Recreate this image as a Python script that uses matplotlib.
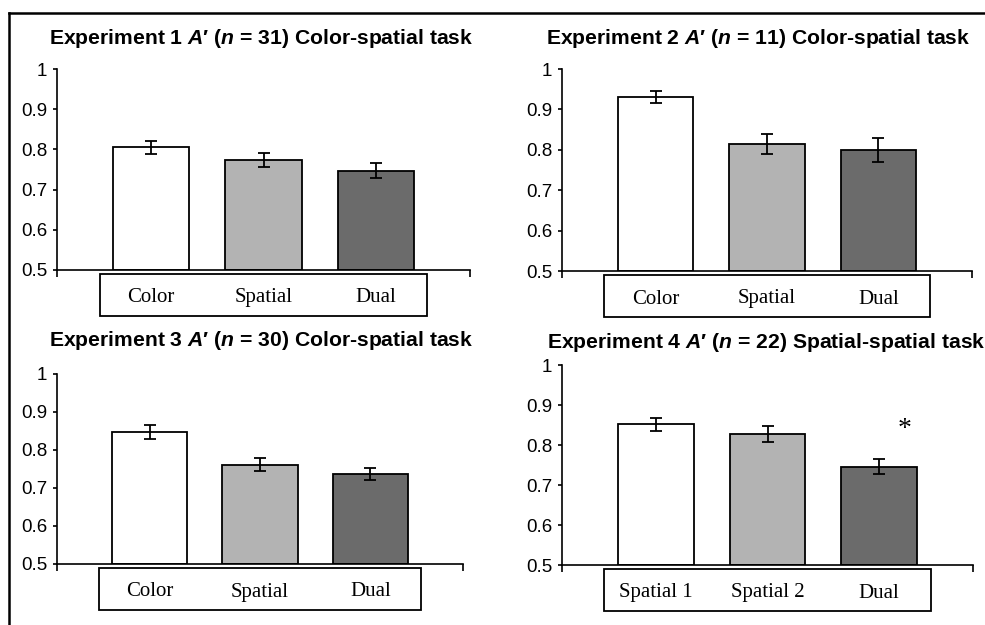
import matplotlib
matplotlib.use("Agg")
import matplotlib.pyplot as plt
from matplotlib.patches import Rectangle
from matplotlib.lines import Line2D
import matplotlib.transforms as mtransforms

plt.rcParams['font.family'] = ['Liberation Sans', 'DejaVu Sans']
plt.rcParams['mathtext.fontset'] = 'custom'
plt.rcParams['mathtext.rm'] = 'Liberation Sans:bold'
plt.rcParams['mathtext.it'] = 'Liberation Sans:italic:bold'
plt.rcParams['mathtext.bf'] = 'Liberation Sans:bold'

# data
titles = ["Experiment 1 $A$\u2032 ($n$ = 31) Color-spatial task",
          "Experiment 2 $A$\u2032 ($n$ = 11) Color-spatial task",
          "Experiment 3 $A$\u2032 ($n$ = 30) Color-spatial task",
          "Experiment 4 $A$\u2032 ($n$ = 22) Spatial-spatial task"]
labels_cs = ["Color", "Spatial", "Dual"]
labels_ss = ["Spatial 1", "Spatial 2", "Dual"]

exp1_means = [0.805, 0.773, 0.747]
exp1_err = [0.016, 0.017, 0.018]
exp2_means = [0.931, 0.814, 0.800]
exp2_err = [0.014, 0.024, 0.029]
exp3_means = [0.848, 0.761, 0.737]
exp3_err = [0.018, 0.017, 0.016]
exp4_means = [0.852, 0.828, 0.746]
exp4_err = [0.016, 0.020, 0.018]

bar_colors = ["white", "#b3b3b3", "#6b6b6b"]
yticks = [0.5, 0.6, 0.7, 0.8, 0.9, 1.0]
ytick_labels = ["0.5", "0.6", "0.7", "0.8", "0.9", "1"]

W, H = 985, 625
fig = plt.figure(figsize=(W / 100, H / 100), dpi=100)

XLIM = (-0.84, 2.84)


def panel(rect, means, errs, labels, title, title_pos, title_ha="center"):
    x0, y0, x1, y1 = rect
    ax = fig.add_axes([x0 / W, 1 - y1 / H, (x1 - x0) / W, (y1 - y0) / H])
    h = y1 - y0
    xs = list(range(len(means)))
    ax.bar(xs, [m - 0.5 for m in means], bottom=0.5, width=0.68,
           color=bar_colors, edgecolor="black", linewidth=1.3, zorder=2)
    ax.errorbar(xs, means, yerr=errs, fmt="none", ecolor="black",
                elinewidth=1.3, capsize=4, capthick=1.3, zorder=3)
    ax.set_xlim(*XLIM)
    ax.set_ylim(0.5, 1.0)
    ax.set_yticks(yticks)
    ax.set_yticklabels(ytick_labels)
    ax.set_xticks([XLIM[0], XLIM[1]])
    ax.set_xticklabels([])
    ax.tick_params(axis="y", direction="out", length=3, width=1.2,
                   labelsize=13.5, pad=4)
    ax.tick_params(axis="x", direction="out", length=5, width=1.2)
    for s in ["top", "right"]:
        ax.spines[s].set_visible(False)
    for s in ["left", "bottom"]:
        ax.spines[s].set_linewidth(1.2)

    # category label box under the axis
    trans = mtransforms.blended_transform_factory(ax.transData, ax.transAxes)
    top = -4.0 / h
    bot = -46.0 / h
    box = Rectangle((-0.46, bot), 2.92, top - bot, transform=trans,
                    facecolor="white", edgecolor="black", linewidth=1.3,
                    clip_on=False)
    ax.add_patch(box)
    for x, lab in zip(xs, labels):
        ax.text(x, -32.5 / h, lab, transform=trans, ha="center",
                va="baseline", fontsize=15, family="Liberation Serif")

    fig.text(title_pos[0] / W, 1 - title_pos[1] / H, title, ha=title_ha,
             va="center", fontsize=15.2, fontweight="bold")
    return ax


panel((57, 69, 470, 270), exp1_means, exp1_err, labels_cs, titles[0], (261, 38))
panel((562, 69, 972, 271), exp2_means, exp2_err, labels_cs, titles[1], (758, 38))
panel((57, 374, 463, 564), exp3_means, exp3_err, labels_cs, titles[2], (261, 340))
ax4 = panel((562, 365, 973, 565), exp4_means, exp4_err, labels_ss, titles[3],
            (547, 342), title_ha="left")
ax4.text(2.23, 0.838, "*", ha="center", va="center", fontsize=20,
         family="Liberation Serif")

# frame lines at top and left
fig.add_artist(Line2D([8.5 / W, 8.5 / W], [1 - 13 / H, 0], color="black", lw=1.8))
fig.add_artist(Line2D([8.5 / W, 1], [1 - 13 / H, 1 - 13 / H], color="black", lw=1.8))

fig.savefig("out.png", dpi=100)
